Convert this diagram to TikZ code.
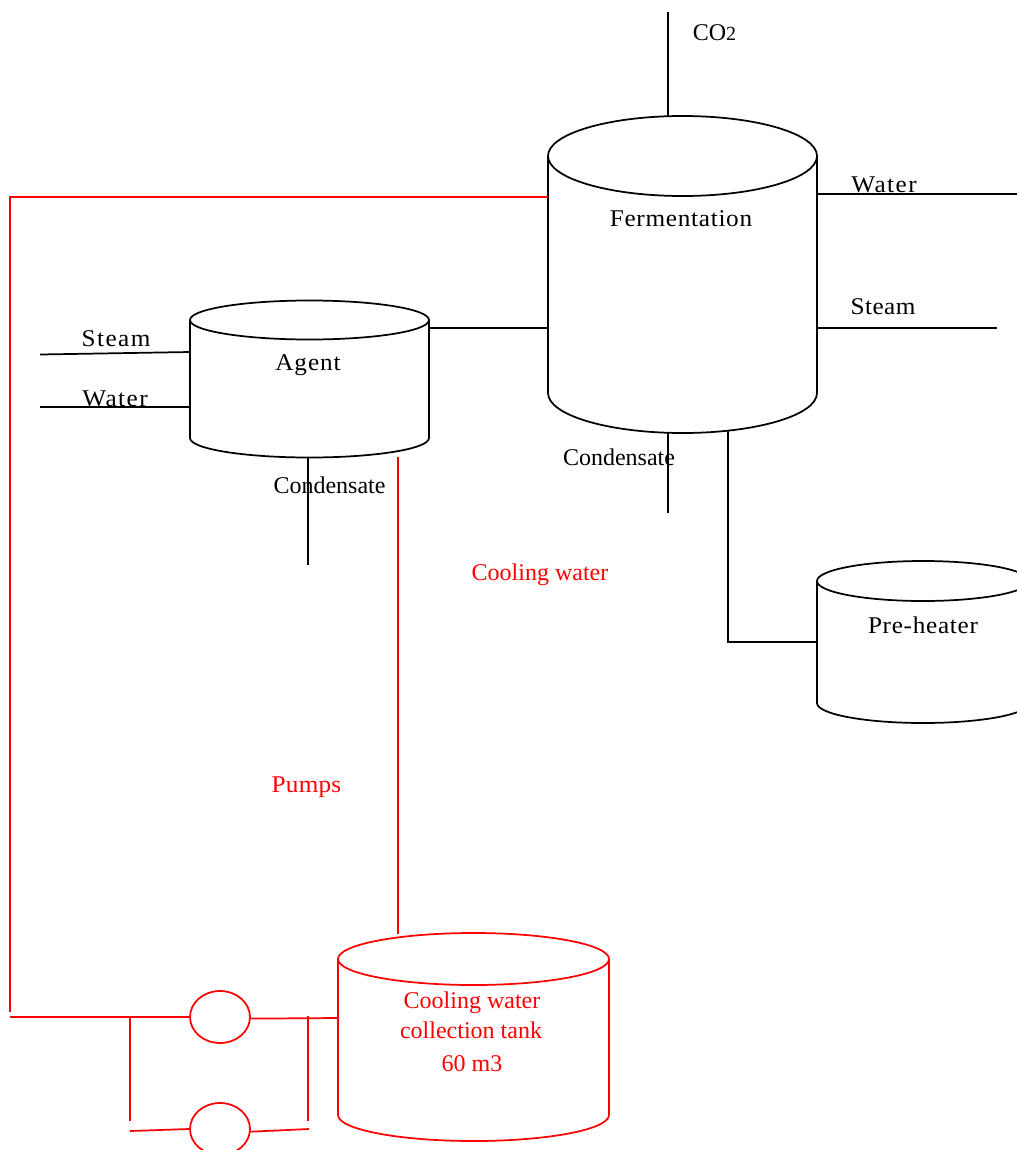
\documentclass[tikz,border=0pt]{standalone}
\usepackage{fontspec}
\setmainfont{Liberation Serif}
\usetikzlibrary{positioning, shapes.geometric}
\definecolor{myred}{RGB}{255,0,0}
\tikzset{
    pipe/.style={line width=1.3pt,black},
    coolpipe/.style={line width=1.3pt,myred},
    vessel/.style={line width=1.3pt,black},
    coolvessel/.style={line width=1.3pt,myred},
    lbl/.style={inner sep=0pt,font=\fontsize{18}{20}\selectfont,black},
    coollbl/.style={lbl,myred},
    track/.style={font={\fontsize{18}{20}\selectfont\addfontfeature{FakeStretch=1.05,LetterSpace=#1}}},
    pump/.style={draw,ellipse,coolpipe,minimum width=45pt,minimum height=39pt,inner sep=0pt}
}
% style, left, right, y of top ellipse, y of lower edge, y radius
\newcommand{\tank}[6][vessel]{
    \draw[#1] ({(#2+#3)/2},#4) ellipse [x radius={(#3-#2)/2},y radius=#6];
    \draw[#1] (#2,#4) -- (#2,#5) arc [start angle=180,end angle=0,x radius={(#3-#2)/2},y radius=#6] -- (#3,#4);
}
\begin{document}
\begin{tikzpicture}[x=0.75pt,y=-0.75pt]
    \useasboundingbox (0,0) rectangle (1017,1150);

    % Tanks
    \tank{548}{817}{156}{393}{40}
    \tank{190}{429}{320}{438}{19.5}
    \tank{817}{1029}{581}{703}{20}
    \tank[coolvessel]{338}{609}{959}{1115}{26}

    % Pumps
    \node[pump] (pumpa) at (220,1017) {};
    \node[pump] (pumpb) at (220,1129) {};

    % Black pipes
    \coordinate (co2top) at (668,12);
    \coordinate (co2bot) at (668,117);
    \draw[pipe] (co2top) -- (co2bot);
    \coordinate (fwaterin) at (817,194);
    \coordinate (fwaterout) at (1017,194);
    \draw[pipe] (fwaterin) -- (fwaterout);
    \coordinate (fsteamin) at (817,328);
    \coordinate (fsteamout) at (997,328);
    \draw[pipe] (fsteamin) -- (fsteamout);
    \coordinate (agentout) at (429,328);
    \coordinate (fermin) at (548,328);
    \draw[pipe] (agentout) -- (fermin);
    \coordinate (fcondtop) at (668,433);
    \coordinate (fcondbot) at (668,513);
    \draw[pipe] (fcondtop) -- (fcondbot);
    \coordinate (fermout) at (728,431);
    \coordinate (heaterin) at (817,642);
    \draw[pipe] (fermout) |- (heaterin);
    \coordinate (asteamout) at (40,354.5);
    \coordinate (asteamin) at (190,352);
    \draw[pipe] (asteamout) -- (asteamin);
    \coordinate (awaterout) at (40,407);
    \coordinate (awaterin) at (190,407);
    \draw[pipe] (awaterout) -- (awaterin);
    \coordinate (acondtop) at (308,457);
    \coordinate (acondbot) at (308,565);
    \draw[pipe] (acondtop) -- (acondbot);

    % Red pipes
    \coordinate (fermcool) at (548,197);
    \coordinate (leftcorner) at (10,197);
    \coordinate (leftend) at (10,1012);
    \draw[coolpipe] (fermcool) -- (leftcorner) -- (leftend);
    \coordinate (linestart) at (10,1017);
    \draw[coolpipe] (linestart) -- (pumpa.west);
    \coordinate (splita) at (130,1017);
    \coordinate (splitb) at (130,1121);
    \draw[coolpipe] (splita) -- (splitb);
    \coordinate (tankin) at (338,1018);
    \draw[coolpipe] (pumpa.-3) -- (tankin);
    \coordinate (joina) at (308,1016);
    \coordinate (joinb) at (308,1121);
    \draw[coolpipe] (joina) -- (joinb);
    \coordinate (pumpbin) at (130,1131);
    \coordinate (pumpbout) at (309,1129);
    \draw[coolpipe] (pumpbin) -- (pumpb.west);
    \draw[coolpipe] (pumpb.-5) -- (pumpbout);
    \coordinate (returntop) at (398,457);
    \coordinate (returnbot) at (398,934);
    \draw[coolpipe] (returntop) -- (returnbot);

    % Labels
    \node[lbl] (co2) at (714.5,33) {CO{\fontsize{15}{16}\selectfont 2}};
    \node[lbl,track=6] (fwater) at (884,185) {Water};
    \node[lbl,track=2] (fsteam) at (883,307) {Steam};
    \node[lbl,track=3] (ferm) at (681,219) {Fermentation};
    \node[lbl,track=4] (agent) at (308,365) {Agent};
    \node[lbl,track=6] (asteam) at (116,339) {Steam};
    \node[lbl,track=6] (awater) at (115,399) {Water};
    \node[lbl] (acond) at (329.5,485) {Condensate};
    \node[lbl] (fcond) at (619,457) {Condensate};
    \node[lbl,track=3] (heater) at (923,625) {Pre-heater};
    \node[coollbl] (coolwater) at (540,575) {Cooling water};
    \node[coollbl,track=1] (pumps) at (306.5,787) {Pumps};
    \node[coollbl] (colla) at (472,1003) {Cooling water};
    \node[coollbl] (collb) at (471,1030) {collection tank};
    \node[coollbl] (collc) at (472,1064) {60 m3};
\end{tikzpicture}
\end{document}
